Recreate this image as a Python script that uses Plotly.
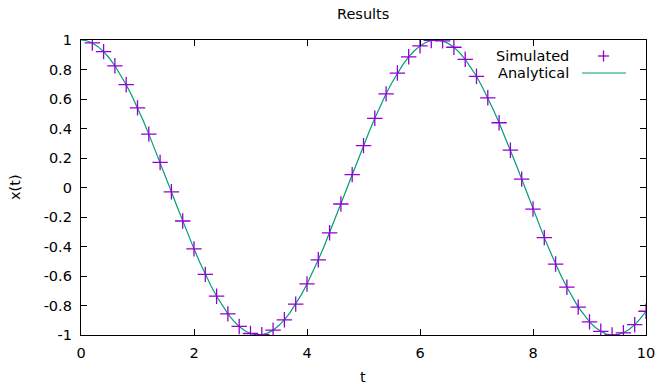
import plotly.graph_objects as go

# Simulated samples
t_sim = [0.2, 0.4, 0.6, 0.8, 1.0, 1.2, 1.4, 1.6, 1.8, 2.0,
         2.2, 2.4, 2.6, 2.8, 3.0, 3.2, 3.4, 3.6, 3.8, 4.0,
         4.2, 4.4, 4.6, 4.8, 5.0, 5.2, 5.4, 5.6, 5.8, 6.0,
         6.2, 6.4, 6.6, 6.8, 7.0, 7.2, 7.4, 7.6, 7.8, 8.0,
         8.2, 8.4, 8.6, 8.8, 9.0, 9.2, 9.4, 9.6, 9.8, 10.0]
x_sim = [0.980, 0.921, 0.825, 0.697, 0.540, 0.362, 0.170, -0.029, -0.227, -0.416,
         -0.589, -0.737, -0.857, -0.942, -0.990, -0.998, -0.967, -0.897, -0.791, -0.654,
         -0.490, -0.307, -0.112, 0.087, 0.284, 0.469, 0.635, 0.776, 0.886, 0.960,
         0.997, 0.994, 0.951, 0.869, 0.754, 0.608, 0.439, 0.253, 0.057, -0.146,
         -0.340, -0.519, -0.676, -0.811, -0.911, -0.975, -1.000, -0.985, -0.930, -0.839]

# Analytical curve
t_ana = [0.0, 0.1, 0.2, 0.3, 0.4, 0.5, 0.6, 0.7, 0.8, 0.9,
         1.0, 1.1, 1.2, 1.3, 1.4, 1.5, 1.6, 1.7, 1.8, 1.9,
         2.0, 2.1, 2.2, 2.3, 2.4, 2.5, 2.6, 2.7, 2.8, 2.9,
         3.0, 3.1, 3.2, 3.3, 3.4, 3.5, 3.6, 3.7, 3.8, 3.9,
         4.0, 4.1, 4.2, 4.3, 4.4, 4.5, 4.6, 4.7, 4.8, 4.9,
         5.0, 5.1, 5.2, 5.3, 5.4, 5.5, 5.6, 5.7, 5.8, 5.9,
         6.0, 6.1, 6.2, 6.3, 6.4, 6.5, 6.6, 6.7, 6.8, 6.9,
         7.0, 7.1, 7.2, 7.3, 7.4, 7.5, 7.6, 7.7, 7.8, 7.9,
         8.0, 8.1, 8.2, 8.3, 8.4, 8.5, 8.6, 8.7, 8.8, 8.9,
         9.0, 9.1, 9.2, 9.3, 9.4, 9.5, 9.6, 9.7, 9.8, 9.9, 10.0]
x_ana = [1.000, 0.995, 0.980, 0.955, 0.921, 0.878, 0.825, 0.765, 0.697, 0.622,
         0.540, 0.454, 0.362, 0.267, 0.170, 0.071, -0.029, -0.129, -0.227, -0.323,
         -0.416, -0.505, -0.589, -0.666, -0.737, -0.801, -0.857, -0.904, -0.942, -0.971,
         -0.990, -0.999, -0.998, -0.987, -0.967, -0.936, -0.897, -0.848, -0.791, -0.726,
         -0.654, -0.575, -0.490, -0.401, -0.307, -0.211, -0.112, -0.012, 0.087, 0.187,
         0.284, 0.378, 0.469, 0.554, 0.635, 0.709, 0.776, 0.835, 0.886, 0.927,
         0.960, 0.983, 0.997, 1.000, 0.994, 0.977, 0.951, 0.915, 0.869, 0.815,
         0.754, 0.683, 0.608, 0.525, 0.439, 0.347, 0.253, 0.156, 0.057, -0.045,
         -0.146, -0.245, -0.340, -0.431, -0.519, -0.602, -0.676, -0.747, -0.811, -0.860,
         -0.911, -0.947, -0.975, -0.994, -1.000, -0.997, -0.985, -0.962, -0.930, -0.889, -0.839]

x_ticks = [0, 2, 4, 6, 8, 10]
y_ticks = [-1, -0.8, -0.6, -0.4, -0.2, 0, 0.2, 0.4, 0.6, 0.8, 1]
y_tick_labels = ["-1", "-0.8", "-0.6", "-0.4", "-0.2", "0", "0.2", "0.4", "0.6", "0.8", "1"]

PURPLE = "#9400d3"
GREEN = "#009e73"
FONT = "DejaVu Sans"
FS = 14.5

fig = go.Figure()
fig.add_trace(go.Scatter(x=t_ana, y=x_ana, mode="lines", name="Analytical",
                         line=dict(color=GREEN, width=1.2), showlegend=False))
fig.add_trace(go.Scatter(x=t_sim, y=x_sim, mode="markers", name="Simulated",
                         marker=dict(symbol="cross-thin", size=11,
                                     line=dict(color=PURPLE, width=1.3), color=PURPLE),
                         showlegend=False))

W, H = 659, 384
L, R, T, B = 81, 13, 40, 49
pw, ph = W - L - R, H - T - B

def px(xp):
    return (xp - L) / pw

def py(yp):
    return (H - B - yp) / ph

def txt(x, y, s, xanchor="center", angle=0):
    fig.add_annotation(x=px(x), y=py(y), xref="paper", yref="paper", text=s,
                       showarrow=False, xanchor=xanchor, yanchor="middle", textangle=angle,
                       font=dict(family=FONT, size=FS, color="black"))

# Titles
txt(362.5, 14, "Results")
txt(363, 377, "t")
txt(15, 187, "x(t)", angle=-90)

# Legend (gnuplot style: text right-aligned, sample on the right)
txt(571, 56, "Simulated", xanchor="right")
txt(571, 73, "Analytical", xanchor="right")
fig.add_shape(type="line", xref="paper", yref="paper", x0=px(598), x1=px(609), y0=py(56), y1=py(56),
              line=dict(color=PURPLE, width=1.3))
fig.add_shape(type="line", xref="paper", yref="paper", x0=px(603.5), x1=px(603.5), y0=py(50.5), y1=py(61.5),
              line=dict(color=PURPLE, width=1.3))
fig.add_shape(type="line", xref="paper", yref="paper", x0=px(582), x1=px(626), y0=py(73), y1=py(73),
              line=dict(color=GREEN, width=1.2))

axis_common = dict(showline=True, linecolor="black", linewidth=1.3, mirror="ticks",
                   ticks="inside", ticklen=6, tickwidth=1, tickcolor="black",
                   showgrid=False, zeroline=False,
                   tickfont=dict(family=FONT, size=FS, color="black"))

fig.update_layout(
    width=W, height=H,
    margin=dict(l=L, r=R, t=T, b=B, autoexpand=False),
    paper_bgcolor="white", plot_bgcolor="white",
    xaxis=dict(range=[0, 10], tickvals=x_ticks, ticktext=[str(v) for v in x_ticks],
               ticklabelstandoff=4, **axis_common),
    yaxis=dict(range=[-1, 1], tickvals=y_ticks, ticktext=y_tick_labels,
               ticklabelstandoff=5, **axis_common),
    font=dict(family=FONT, size=FS, color="black"),
)

fig.write_html("out.html", config={"displayModeBar": False},
               post_script="document.body.style.margin='0';document.body.style.overflow='hidden';")
